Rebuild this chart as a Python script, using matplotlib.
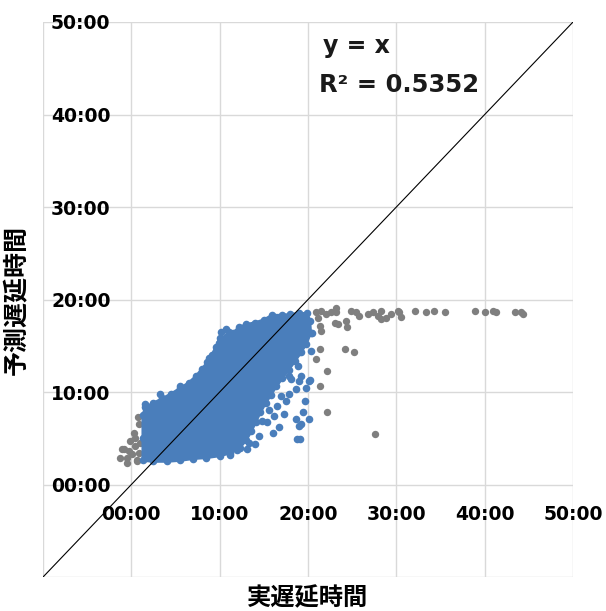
import matplotlib
matplotlib.use("Agg")
import matplotlib.pyplot as plt
from matplotlib.ticker import FuncFormatter

# minutes (actual delay -> predicted delay)
# dense core of the blue series, traced as an envelope
core_x = [1.3, 1.3, 1.3, 1.6, 2.5, 3.5, 4.5, 5.5, 6.5, 7.3, 8.0, 8.6, 9.1, 9.6, 10.0,
          10.8, 11.5, 12.2, 13.0, 14.0, 15.0, 15.9, 17.0, 18.0, 19.0, 19.9,
          20.2, 20.3, 19.8, 19.2, 18.5, 17.8, 17.1, 16.4, 15.8, 15.2, 14.6, 14.1, 13.6,
          13.0, 12.3, 11.2, 10.0, 8.5, 7.0, 5.5, 4.0, 2.5]
core_y = [2.6, 5.0, 7.5, 8.4, 8.8, 9.3, 9.8, 10.4, 11.0, 11.7, 12.5, 13.2, 14.0, 14.9, 15.8,
          16.1, 16.4, 17.0, 17.3, 17.5, 17.8, 18.3, 18.3, 18.4, 18.5, 18.5,
          17.7, 16.4, 15.2, 14.3, 13.3, 12.4, 11.5, 10.6, 9.7, 8.8, 7.8, 6.8, 5.8,
          4.8, 4.0, 3.4, 3.1, 2.9, 2.8, 2.6, 2.5, 2.5]

# blue points scattered outside the dense core
blue_x = [18.05, 19.0, 18.6, 19.8, 20.1, 19.7, 19.4, 18.6, 20.1, 19.0, 18.8, 17.3, 16.0,
          16.7, 16.9, 16.5, 17.9, 20.3, 19.0, 19.2, 20.5, 13.3, 13.1, 14.5, 15.6, 10.1,
          9.9, 11.05, 8.8, 9.5, 1.6, 19.2, 20.2, 19.1, 14.8, 15.5, 17.5, 15.4, 16.2,
          17.8, 14.0, 12.0, 11.2, 5.5, 3.2, 18.9, 10.7]
blue_y = [11.4, 11.2, 10.3, 10.4, 11.2, 9.0, 7.8, 7.1, 7.1, 6.3, 4.9, 7.6, 5.6,
          6.2, 9.6, 8.5, 11.7, 14.4, 14.3, 11.7, 16.4, 4.5, 3.8, 5.2, 8.1, 16.5,
          15.3, 16.5, 13.7, 13.3, 8.7, 6.5, 11.3, 4.9, 6.9, 10.0, 9.0, 6.8, 7.4,
          9.8, 4.4, 3.7, 3.2, 10.7, 9.8, 12.8, 16.8]

# gray points (outside the modelled range)
gray_x = [-1.26, -0.5, -0.87, -0.11, 0.26, 0.83, 0.75, 0.45, 0.07, 0.64, -0.3, 0.83,
          0.45, 1.0, -0.5, -1.07, 0.64,
          20.9, 21.5, 22.0, 22.6, 23.2, 23.2, 21.1, 23.0, 23.35, 21.3, 21.5, 24.3, 24.4,
          24.9, 25.4, 25.8, 26.75, 27.3, 27.9, 28.3, 28.3, 28.8, 29.4, 30.2, 30.5, 30.35,
          32.06, 33.3, 34.3, 35.5, 38.9, 40.0, 40.95, 41.25, 43.4, 44.06, 44.3,
          21.3, 20.9, 24.2, 25.2, 22.1, 21.3, 22.2, 27.6]
gray_y = [2.9, 2.35, 3.8, 4.7, 5.6, 6.5, 7.3, 4.15, 3.25, 2.5, 3.6, 3.4,
          5.05, 4.5, 2.9, 3.8, 2.7,
          18.6, 18.8, 18.4, 18.6, 19.1, 18.6, 18.0, 17.5, 17.4, 17.1, 16.6, 17.7, 17.0,
          18.8, 18.6, 18.2, 18.4, 18.6, 18.2, 18.8, 17.9, 18.0, 18.4, 18.8, 18.15, 18.6,
          18.8, 18.6, 18.8, 18.7, 18.8, 18.65, 18.8, 18.6, 18.7, 18.7, 18.4,
          14.6, 13.6, 14.7, 14.3, 12.3, 10.7, 7.8, 5.5]

ticks = [0, 10, 20, 30, 40, 50]
r2 = 0.5352

blue = "#4a7ebb"
gray = "#7f7f7f"

fig = plt.figure(figsize=(6.06, 6.11), dpi=100)
ax = fig.add_axes([0.071, 0.0556, 0.8746, 0.9084])

ax.scatter(gray_x, gray_y, s=28, color=gray, linewidths=0, zorder=2)
ax.fill(core_x, core_y, color=blue, linewidth=2, zorder=3)
ax.scatter(core_x, core_y, s=30, color=blue, linewidths=0, zorder=3)
ax.scatter(blue_x, blue_y, s=30, color=blue, linewidths=0, zorder=3)

# y = x reference line
ax.plot([-10, 50], [-10, 50], color="black", linewidth=0.8, zorder=4)

ax.set_xlim(-10, 50)
ax.set_ylim(-10, 50)
ax.set_xticks(ticks)
ax.set_yticks(ticks)
ax.set_xticks([-10], minor=True)
ax.set_yticks([-10], minor=True)
fmt = FuncFormatter(lambda v, p: "%02d:00" % v)
ax.xaxis.set_major_formatter(fmt)
ax.yaxis.set_major_formatter(fmt)
ax.grid(True, which="both", color="#d9d9d9", linewidth=1, zorder=0)
ax.set_axisbelow(True)

# Excel style: axes cross at zero
ax.spines["left"].set_position(("data", 0))
ax.spines["bottom"].set_position(("data", 0))
for s in ax.spines.values():
    s.set_visible(False)
ax.tick_params(which="both", length=0)
ax.tick_params(axis="y", pad=15)
ax.tick_params(axis="x", pad=15)
for lab in ax.get_xticklabels() + ax.get_yticklabels():
    lab.set_fontsize(13.5)
    lab.set_fontweight("bold")

jp = ["Noto Sans CJK JP", "DejaVu Sans"]
ax.text(-0.05, 0.5, "予測遅延時間", transform=ax.transAxes, rotation=90,
        ha="center", va="center", fontsize=18, fontweight="bold", family=jp)
ax.text(0.5, -0.038, "実遅延時間", transform=ax.transAxes,
        ha="center", va="center", fontsize=17.5, fontweight="bold", family=jp)

ax.text(0.528, 0.957, "y = x", transform=ax.transAxes, ha="left", va="center",
        fontsize=17, fontweight="bold", color="#1a1a1a")
ax.text(0.52, 0.886, "R\u00b2 = %.4f" % r2, transform=ax.transAxes, ha="left", va="center",
        fontsize=17.5, fontweight="bold", color="#1a1a1a")

fig.savefig("out.png", dpi=100)
